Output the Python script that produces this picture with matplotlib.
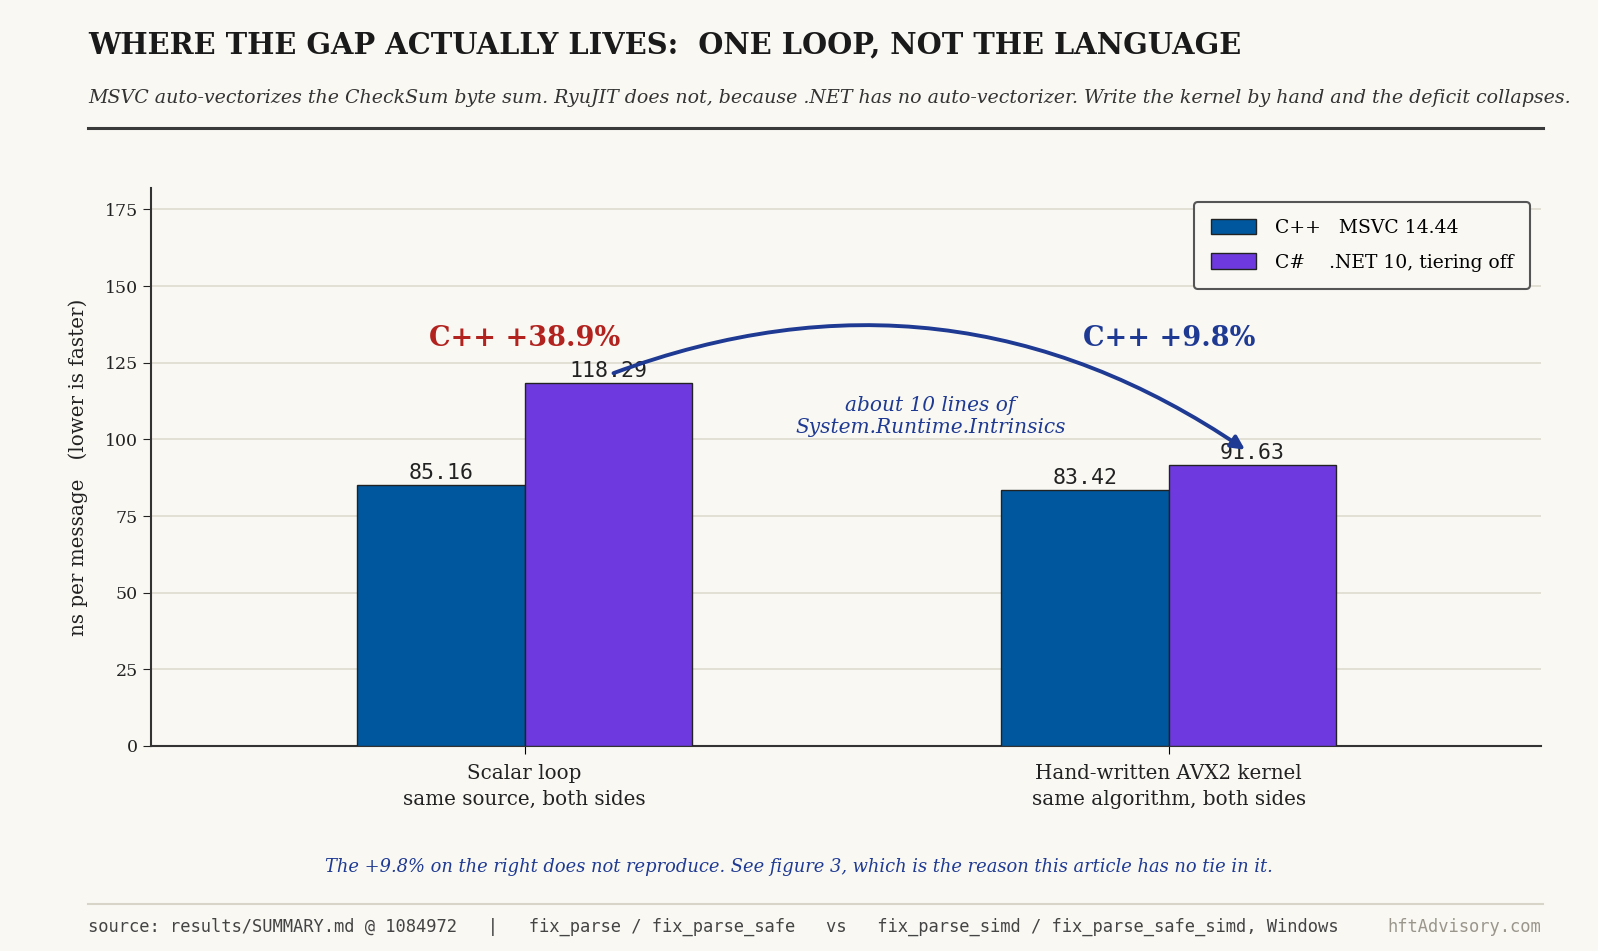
import matplotlib.pyplot as plt
import numpy as np
from matplotlib.patches import FancyArrowPatch

# data
groups = ["Scalar loop\nsame source, both sides",
          "Hand-written AVX2 kernel\nsame algorithm, both sides"]
cpp_ns = [85.16, 83.42]
cs_ns = [118.29, 91.63]
series_labels = ["C++   MSVC 14.44", "C#    .NET 10, tiering off"]
gap_labels = ["C++ +38.9%", "C++ +9.8%"]
yticks = [0, 25, 50, 75, 100, 125, 150, 175]

BG = "#f9f8f3"
CPP = "#00579e"
CS = "#6e3ae0"
RED = "#b2221e"
BLUE = "#1f3a93"
SERIF = "DejaVu Serif"
MONO = "DejaVu Sans Mono"
W, H = 1598, 951

plt.rcParams['font.family'] = SERIF

fig = plt.figure(figsize=(W / 100, H / 100), dpi=100, facecolor=BG)
ax = fig.add_axes([151 / W, 1 - 746 / H, (1541 - 151) / W, (746 - 188) / H])
ax.set_facecolor(BG)

x = np.arange(len(groups))
width = 0.26
b1 = ax.bar(x - width / 2, cpp_ns, width, color=CPP, edgecolor="#222222", linewidth=1.0,
            label=series_labels[0], zorder=3)
b2 = ax.bar(x + width / 2, cs_ns, width, color=CS, edgecolor="#222222", linewidth=1.0,
            label=series_labels[1], zorder=3)

for bars in (b1, b2):
    for r in bars:
        ax.text(r.get_x() + r.get_width() / 2, r.get_height() + 0.6, f"{r.get_height():.2f}",
                ha="center", va="bottom", fontsize=15.5, family=MONO, color="#222222", zorder=4)

ax.set_xlim(-0.58, 1.578)
ax.set_ylim(0, 182)
ax.set_yticks(yticks)
ax.set_xticks(x)
ax.set_xticklabels(groups, fontsize=14.3, color="#222222", linespacing=1.45)
ax.tick_params(axis="y", labelsize=12.5, colors="#222222", length=6)
ax.tick_params(axis="x", length=6, pad=7)
ax.set_ylabel("ns per message   (lower is faster)", fontsize=14.3, color="#222222")
ax.yaxis.set_label_coords(-0.0455, 0.5)
ax.grid(axis="y", color="#dedbd0", linewidth=1.2, zorder=0)
for s in ("top", "right"):
    ax.spines[s].set_visible(False)
for s in ("left", "bottom"):
    ax.spines[s].set_color("#333333")
    ax.spines[s].set_linewidth(1.5)

# gap annotations
ax.text(x[0], 133, gap_labels[0], ha="center", va="center", fontsize=19.5, fontweight="bold", color=RED)
ax.text(x[1], 133, gap_labels[1], ha="center", va="center", fontsize=19.5, fontweight="bold", color=BLUE)

arrow = FancyArrowPatch((x[0] + 0.134, cs_ns[0] + 3), (x[1] + 0.122, cs_ns[1] + 4.5),
                        connectionstyle="arc3,rad=-0.26", arrowstyle="-|>,head_length=8,head_width=4",
                        color=BLUE, linewidth=2.8, zorder=5)
ax.add_patch(arrow)
ax.text(0.63, 107.4, "about 10 lines of\nSystem.Runtime.Intrinsics", ha="center", va="center",
        fontsize=14.5, style="italic", color=BLUE, linespacing=1.2)

leg = ax.legend(loc="upper right", fontsize=13.5, frameon=True, facecolor=BG, edgecolor="#555555",
                borderpad=0.9, handlelength=2.4, handleheight=0.9, handletextpad=1.0,
                labelspacing=0.87, borderaxespad=0, bbox_to_anchor=(0.992, 0.975), fancybox=True)
leg.get_frame().set_linewidth(1.5)
leg.get_frame().set_alpha(1)

# header
fig.text(88 / W, 1 - 45 / H, "WHERE THE GAP ACTUALLY LIVES:  ONE LOOP, NOT THE LANGUAGE",
         fontsize=20.8, fontweight="bold", color="#1a1a1a", va="center")
fig.text(88 / W, 1 - 98 / H,
         "MSVC auto-vectorizes the CheckSum byte sum. RyuJIT does not, because .NET has no auto-vectorizer. "
         "Write the kernel by hand and the deficit collapses.",
         fontsize=13.7, style="italic", color="#333333", va="center")
fig.add_artist(plt.Line2D([88 / W, 1543 / W], [1 - 127.5 / H] * 2, color="#3a3a3a", linewidth=2.2))

# footer
fig.text(0.5, 1 - 867 / H,
         "The +9.8% on the right does not reproduce. See figure 3, which is the reason this article has no tie in it.",
         fontsize=12.9, style="italic", color=BLUE, ha="center", va="center")
fig.add_artist(plt.Line2D([88 / W, 1543 / W], [1 - 904 / H] * 2, color="#d8d4c8", linewidth=1.5))
fig.text(88 / W, 1 - 926.5 / H,
         "source: results/SUMMARY.md @ 1084972   |   fix_parse / fix_parse_safe   vs   "
         "fix_parse_simd / fix_parse_safe_simd, Windows",
         fontsize=12.3, family=MONO, color="#444444", va="center")
fig.text(1541 / W, 1 - 926.5 / H, "hftAdvisory.com", fontsize=12.3, family=MONO, color="#9a968c",
         ha="right", va="center")

fig.savefig("out.png", dpi=100, facecolor=BG)
